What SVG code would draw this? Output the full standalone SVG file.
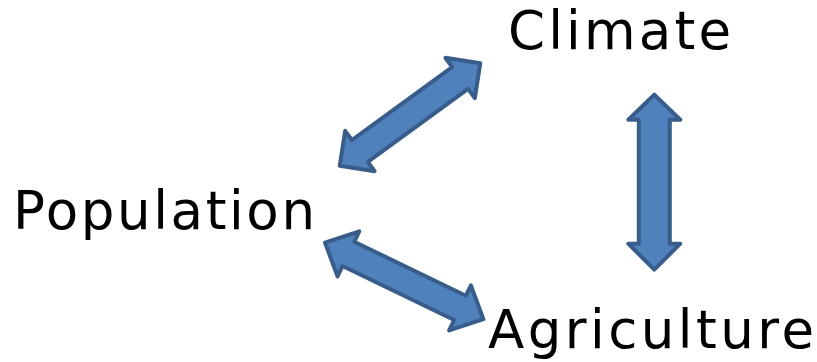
<svg xmlns="http://www.w3.org/2000/svg" width="817" height="362" viewBox="0 0 817 362">
  <style>
    .lbl { font-family: "DejaVu Sans", Verdana, sans-serif; font-size: 53px; fill: #000; }
    .arrow { fill: #4F81BD; stroke: #385D8A; stroke-width: 4; stroke-linejoin: round; }
  </style>
  <rect width="817" height="362" fill="#fff"/>
  <g id="connectors">
    <polygon id="arrow-pop-climate" class="arrow" transform="translate(410,114.5) rotate(-36.1)" points="-87,0 -62,-25 -62,-13.5 62,-13.5 62,-25 87,0 62,25 62,13.5 -62,13.5 -62,25"/>
    <polygon id="arrow-climate-agri" class="arrow" transform="translate(654.3,182.2) rotate(90)" points="-87.5,0 -62.5,-26 -62.5,-15.5 61.5,-15.5 61.5,-26 87.5,0 61.5,26 61.5,15.5 -62.5,15.5 -62.5,26"/>
    <polygon id="arrow-pop-agri" class="arrow" transform="translate(404.2,280.9) rotate(25.8)" points="-88,0 -62,-25 -62,-13.5 62,-13.5 62,-25 88,0 62,25 62,13.5 -62,13.5 -62,25"/>
  </g>
  <g id="climate">
    <text class="lbl" x="508" y="48.5" textLength="223" lengthAdjust="spacing">Climate</text>
  </g>
  <g id="population">
    <text class="lbl" x="13" y="228.5" textLength="302" lengthAdjust="spacing">Population</text>
  </g>
  <g id="agriculture">
    <text class="lbl" x="488" y="347.5" textLength="326" lengthAdjust="spacing">Agriculture</text>
  </g>
</svg>
